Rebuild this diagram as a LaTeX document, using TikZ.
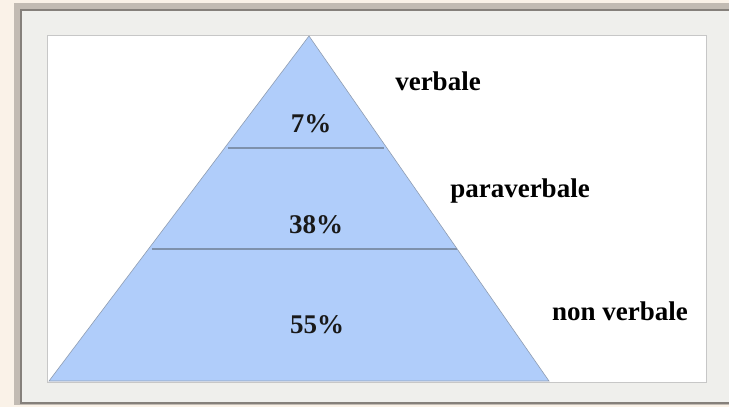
\documentclass[tikz,border=0pt]{standalone}
\usepackage{fontspec}
\setmainfont{Liberation Serif}
\usetikzlibrary{positioning,calc}

\definecolor{paper}{HTML}{FAF2E8}
\definecolor{framegray}{HTML}{C2BBB3}
\definecolor{framedark}{HTML}{85807B}
\definecolor{matgray}{HTML}{EFEFEC}
\definecolor{pyrblue}{HTML}{B0CDFA}
\definecolor{pyredge}{HTML}{8F9DB2}
\definecolor{pyrline}{HTML}{7E91AC}

\begin{document}
\begin{tikzpicture}[
  x=1pt,y=-1pt,
  font=\fontsize{27}{30}\selectfont\bfseries,
  share/.style={anchor=base,inner sep=0pt,text=black!90},
  level/.style={anchor=base,inner sep=0pt,text=black},
  layer/.style={pyrline,line width=1.8pt}
]
\useasboundingbox (0,0) rectangle (729,407);
% background and frame
\fill[paper] (0,0) rectangle (729,407);
\fill[framegray] (14,3) rectangle (729,405);
\fill[framedark] (20,9) rectangle (729,404);
\fill[matgray] (22,11) rectangle (729,402);
\draw[black!22,line width=.8pt,fill=white] (47,35) rectangle (706,382);
% pyramid
\coordinate (apex) at (309,36);
\coordinate (bl) at (49,381);
\coordinate (br) at (549,381);
\filldraw[fill=pyrblue,draw=pyredge,line width=.6pt] (apex) -- (bl) -- (br) -- cycle;
\draw[layer] ($(apex)!.325!(bl)+(3,0)$) -- ($(apex)!.325!(br)+(-3,0)$);
\draw[layer] ($(apex)!.617!(bl)+(3,0)$) -- ($(apex)!.617!(br)$);
% percentages
\node[share] (p7) at (311,132) {7\%};
\node[share] (p38) at (316,233) {38\%};
\node[share] (p55) at (317,333) {55\%};
% labels
\node[level] (verb) at (438,90) {verbale};
\node[level] (para) at (520,197) {paraverbale};
\node[level] (nonv) at (620,320) {non verbale};
\end{tikzpicture}
\end{document}
